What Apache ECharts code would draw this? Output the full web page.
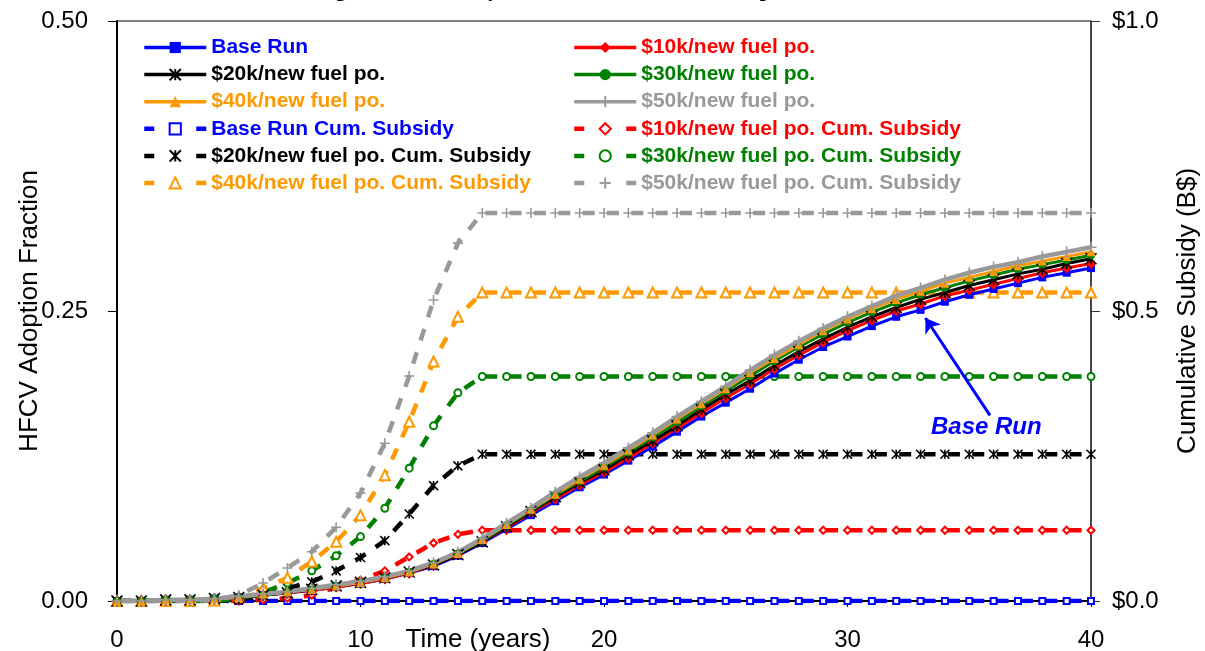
<!DOCTYPE html>
<html>
<head>
<meta charset="utf-8">
<script src="https://cdn.jsdelivr.net/npm/echarts@6/dist/echarts.min.js"></script>
<style>
  html, body { margin: 0; padding: 0; background: #fff; }
  #chart { width: 1205px; height: 651px; }
</style>
</head>
<body>
<div id="chart"></div>
<script>
// time axis (years)
const years = [0, 1, 2, 3, 4, 5, 6, 7, 8, 9, 10, 11, 12, 13, 14, 15, 16, 17, 18, 19, 20,
  21, 22, 23, 24, 25, 26, 27, 28, 29, 30, 31, 32, 33, 34, 35, 36, 37, 38, 39, 40];

// HFCV adoption fraction (left axis)
const adoptBase = [0, 0, 0.001, 0.001, 0.002, 0.003, 0.005, 0.007, 0.009, 0.012, 0.015, 0.019, 0.024, 0.030, 0.039, 0.050, 0.062, 0.074, 0.086, 0.098, 0.109,
  0.121, 0.133, 0.146, 0.159, 0.171, 0.183, 0.196, 0.208, 0.219, 0.228, 0.237, 0.245, 0.251, 0.258, 0.264, 0.269, 0.274, 0.279, 0.283, 0.287];
const adopt10k = [0, 0, 0.001, 0.001, 0.002, 0.003, 0.005, 0.007, 0.009, 0.012, 0.015, 0.019, 0.024, 0.031, 0.040, 0.051, 0.063, 0.076, 0.088, 0.100, 0.111,
  0.123, 0.136, 0.149, 0.162, 0.175, 0.187, 0.200, 0.212, 0.223, 0.233, 0.242, 0.250, 0.256, 0.263, 0.268, 0.273, 0.278, 0.283, 0.287, 0.291];
const adopt20k = [0, 0, 0.001, 0.001, 0.002, 0.003, 0.005, 0.007, 0.010, 0.013, 0.016, 0.020, 0.025, 0.031, 0.040, 0.051, 0.064, 0.077, 0.090, 0.102, 0.113,
  0.126, 0.138, 0.151, 0.165, 0.178, 0.190, 0.203, 0.215, 0.226, 0.236, 0.245, 0.253, 0.260, 0.266, 0.272, 0.277, 0.282, 0.286, 0.291, 0.295];
const adopt30k = [0, 0, 0.001, 0.001, 0.002, 0.003, 0.005, 0.008, 0.010, 0.013, 0.016, 0.020, 0.025, 0.032, 0.041, 0.052, 0.065, 0.078, 0.091, 0.103, 0.115,
  0.128, 0.141, 0.154, 0.168, 0.181, 0.194, 0.207, 0.219, 0.230, 0.240, 0.249, 0.257, 0.264, 0.270, 0.276, 0.281, 0.286, 0.290, 0.294, 0.298];
const adopt40k = [0, 0, 0.001, 0.001, 0.002, 0.003, 0.006, 0.008, 0.010, 0.013, 0.016, 0.020, 0.025, 0.032, 0.041, 0.053, 0.066, 0.079, 0.092, 0.105, 0.117,
  0.130, 0.143, 0.157, 0.170, 0.183, 0.197, 0.209, 0.221, 0.233, 0.243, 0.252, 0.260, 0.267, 0.274, 0.279, 0.284, 0.289, 0.293, 0.297, 0.301];
const adopt50k = [0, 0, 0.001, 0.001, 0.002, 0.004, 0.006, 0.008, 0.011, 0.014, 0.017, 0.021, 0.026, 0.033, 0.042, 0.054, 0.067, 0.080, 0.094, 0.107, 0.119,
  0.132, 0.145, 0.159, 0.172, 0.185, 0.199, 0.212, 0.224, 0.235, 0.245, 0.254, 0.263, 0.270, 0.277, 0.283, 0.288, 0.292, 0.297, 0.301, 0.305];

// cumulative subsidy, B$ (right axis)
const subBase = [0, 0, 0, 0, 0, 0, 0, 0, 0, 0, 0, 0, 0, 0, 0, 0, 0, 0, 0, 0, 0,
  0, 0, 0, 0, 0, 0, 0, 0, 0, 0, 0, 0, 0, 0, 0, 0, 0, 0, 0, 0];
const sub10k = [0, 0, 0, 0, 0, 0, 0.002, 0.005, 0.010, 0.024, 0.036, 0.052, 0.076, 0.100, 0.115, 0.122, 0.122, 0.122, 0.122, 0.122, 0.122,
  0.122, 0.122, 0.122, 0.122, 0.122, 0.122, 0.122, 0.122, 0.122, 0.122, 0.122, 0.122, 0.122, 0.122, 0.122, 0.122, 0.122, 0.122, 0.122, 0.122];
const sub20k = [0, 0, 0, 0, 0, 0.002, 0.010, 0.022, 0.033, 0.052, 0.075, 0.104, 0.150, 0.199, 0.233, 0.253, 0.253, 0.253, 0.253, 0.253, 0.253,
  0.253, 0.253, 0.253, 0.253, 0.253, 0.253, 0.253, 0.253, 0.253, 0.253, 0.253, 0.253, 0.253, 0.253, 0.253, 0.253, 0.253, 0.253, 0.253, 0.253];
const sub30k = [0, 0, 0, 0, 0, 0.004, 0.015, 0.031, 0.052, 0.078, 0.111, 0.160, 0.229, 0.302, 0.359, 0.387, 0.387, 0.387, 0.387, 0.387, 0.387,
  0.387, 0.387, 0.387, 0.387, 0.387, 0.387, 0.387, 0.387, 0.387, 0.387, 0.387, 0.387, 0.387, 0.387, 0.387, 0.387, 0.387, 0.387, 0.387, 0.387];
const sub40k = [0, 0, 0, 0, 0.001, 0.007, 0.022, 0.040, 0.068, 0.102, 0.148, 0.217, 0.309, 0.413, 0.490, 0.532, 0.532, 0.532, 0.532, 0.532, 0.532,
  0.532, 0.532, 0.532, 0.532, 0.532, 0.532, 0.532, 0.532, 0.532, 0.532, 0.532, 0.532, 0.532, 0.532, 0.532, 0.532, 0.532, 0.532, 0.532, 0.532];
const sub50k = [0, 0, 0, 0, 0.002, 0.010, 0.031, 0.057, 0.085, 0.127, 0.186, 0.272, 0.388, 0.519, 0.617, 0.669, 0.669, 0.669, 0.669, 0.669, 0.669,
  0.669, 0.669, 0.669, 0.669, 0.669, 0.669, 0.669, 0.669, 0.669, 0.669, 0.669, 0.669, 0.669, 0.669, 0.669, 0.669, 0.669, 0.669, 0.669, 0.669];

const xTicks = [0, 10, 20, 30, 40];
const leftTicks = [0, 0.25, 0.5];
const rightTicks = [0, 0.5, 1.0];

const FONT = "Liberation Sans, Arial, sans-serif";
const BLUE = "#0000ff", RED = "#ff0000", BLACK = "#000000", GREEN = "#008000", ORANGE = "#ff9900", GRAY = "#999999";
const ASTER = "path://M0,0L10,10M10,0L0,10M5,0L5,10";
const PLUS = "path://M5,0L5,10M0,5L10,5";
const DASH = [12, 12.35]; // excel restarts the dash at every point, one year ~ 24.35px
const DASH_SHIFT = 3; // dash begins a little right of each marker

function pairs(arr) {
  return years.map((t, i) => [t, arr[i]]);
}

function adoptSeries(name, arr, color, symbol, size, width) {
  let stroke = symbol === ASTER || symbol === PLUS;
  return {
    name: name,
    type: "line",
    yAxisIndex: 0,
    data: pairs(arr),
    symbol: symbol,
    symbolSize: size,
    showAllSymbol: true,
    lineStyle: { color: color, width: width || 3 },
    itemStyle: { color: color, borderColor: color, borderWidth: stroke ? 1.6 : 0 },
    z: 3,
  };
}

function subSeries(name, arr, color, symbol, size) {
  let stroke = symbol === ASTER || symbol === PLUS;
  return {
    name: name,
    type: "line",
    yAxisIndex: 1,
    data: pairs(arr),
    symbol: symbol,
    symbolSize: size,
    showAllSymbol: true,
    lineStyle: { color: color, width: 4.5, type: DASH, dashOffset: 0 },
    itemStyle: stroke ? { color: color, borderColor: color, borderWidth: 1.6 } : { color: color, borderWidth: 1.4 },
    z: 2,
  };
}

const legendLeft = [
  ["Base Run", BLUE], ["$20k/new fuel po.", BLACK], ["$40k/new fuel po.", ORANGE],
  ["Base Run Cum. Subsidy", BLUE], ["$20k/new fuel po. Cum. Subsidy", BLACK], ["$40k/new fuel po. Cum. Subsidy", ORANGE],
];
const legendRight = [
  ["$10k/new fuel po.", RED], ["$30k/new fuel po.", GREEN], ["$50k/new fuel po.", GRAY],
  ["$10k/new fuel po. Cum. Subsidy", RED], ["$30k/new fuel po. Cum. Subsidy", GREEN], ["$50k/new fuel po. Cum. Subsidy", GRAY],
];

function legendCol(list, left) {
  return {
    orient: "vertical",
    left: left,
    top: 37,
    padding: 0,
    itemWidth: 62,
    itemHeight: 14,
    itemGap: 6.1,
    textStyle: { fontFamily: FONT, fontSize: 21, lineHeight: 20, fontWeight: "bold" },
    data: list.map(([n, c]) => ({
      name: n,
      textStyle: { color: c },
      lineStyle: n.indexOf("Cum.") >= 0
        ? { width: 4.5, type: [10, 42], dashOffset: 0 }
        : { width: 3.5 },
    })),
  };
}

const baseRun = adoptSeries("Base Run", adoptBase, BLUE, "rect", 8);
baseRun.markLine = {
  silent: true,
  symbol: ["none", "arrow"],
  symbolSize: 14,
  label: { show: false },
  lineStyle: { color: BLUE, width: 3, type: "solid" },
  data: [[{ coord: [35.85, 0.160] }, { coord: [33.2, 0.244] }]],
};
baseRun.markPoint = {
  silent: true,
  symbolSize: 0,
  data: [{ coord: [35.7, 0.150], value: "Base Run" }],
  label: {
    show: true,
    formatter: "Base Run",
    color: BLUE,
    fontFamily: FONT,
    fontSize: 24,
    fontWeight: "bold",
    fontStyle: "italic",
  },
};

const chart = echarts.init(document.getElementById("chart"));

const subList = [
  subSeries("Base Run Cum. Subsidy", subBase, BLUE, "emptyRect", 6),
  subSeries("$10k/new fuel po. Cum. Subsidy", sub10k, RED, "emptyDiamond", 7),
  subSeries("$20k/new fuel po. Cum. Subsidy", sub20k, BLACK, ASTER, 9),
  subSeries("$30k/new fuel po. Cum. Subsidy", sub30k, GREEN, "emptyCircle", 7),
  subSeries("$40k/new fuel po. Cum. Subsidy", sub40k, ORANGE, "emptyTriangle", 10),
  subSeries("$50k/new fuel po. Cum. Subsidy", sub50k, GRAY, PLUS, 10),
];

const option = {
  animation: false,
  backgroundColor: "#fff",
  title: {
    text: "Funding Level Sensitivity Test and HFCV Market Adoption",
    left: 265,
    top: -25,
    textStyle: { fontFamily: "Liberation Serif, Times New Roman, serif", fontSize: 21, fontWeight: "bold", color: "#000" },
  },
  grid: { left: 117, right: 114, top: 21, bottom: 50, outerBoundsMode: "none", show: true, borderColor: "#000", borderWidth: 1 },
  legend: [legendCol(legendLeft, 142), legendCol(legendRight, 572)],
  xAxis: {
    type: "value",
    min: xTicks[0],
    max: xTicks[xTicks.length - 1],
    interval: 10,
    name: "Time (years)",
    nameLocation: "middle",
    nameGap: 26,
    nameMoveOverlap: false,
    nameTextStyle: { fontFamily: FONT, fontSize: 26, color: "#000", padding: [0, 252, 0, 0] },
    splitLine: { show: false },
    axisLine: { lineStyle: { color: "#000", width: 2 } },
    axisTick: { length: 6, lineStyle: { color: "#000" } },
    axisLabel: { fontFamily: FONT, fontSize: 24, color: "#000", margin: 27 },
  },
  yAxis: [
    {
      type: "value",
      min: leftTicks[0],
      max: leftTicks[leftTicks.length - 1],
      interval: 0.25,
      name: "HFCV Adoption Fraction",
      nameLocation: "middle",
      nameRotate: 90,
      nameGap: 74,
      nameMoveOverlap: false,
      nameTextStyle: { fontFamily: FONT, fontSize: 26, color: "#000" },
      splitLine: { show: false },
      axisLine: { show: true, lineStyle: { color: "#000", width: 2 } },
      axisTick: { show: true, length: 9, lineStyle: { color: "#000" } },
      axisLabel: { fontFamily: FONT, fontSize: 24, color: "#000", margin: 29, formatter: (v) => v.toFixed(2) },
    },
    {
      type: "value",
      position: "right",
      min: rightTicks[0],
      max: rightTicks[rightTicks.length - 1],
      interval: 0.5,
      name: "Cumulative Subsidy (B$)",
      nameLocation: "middle",
      nameRotate: 90,
      nameGap: 84,
      nameMoveOverlap: false,
      nameTextStyle: { fontFamily: FONT, fontSize: 26, color: "#000" },
      splitLine: { show: false },
      axisLine: { show: true, lineStyle: { color: "#333", width: 1.5 } },
      axisTick: { show: true, length: 9, lineStyle: { color: "#333" } },
      axisLabel: { fontFamily: FONT, fontSize: 24, color: "#000", margin: 21, formatter: (v) => "$" + v.toFixed(1) },
    },
  ],
  series: subList.concat([
    baseRun,
    adoptSeries("$10k/new fuel po.", adopt10k, RED, "diamond", 11),
    adoptSeries("$20k/new fuel po.", adopt20k, BLACK, ASTER, 11),
    adoptSeries("$30k/new fuel po.", adopt30k, GREEN, "circle", 8),
    adoptSeries("$40k/new fuel po.", adopt40k, ORANGE, "triangle", 9),
    adoptSeries("$50k/new fuel po.", adopt50k, GRAY, PLUS, 11, 4.5),
  ]),
};

chart.setOption(option);

// line up the dash phase so a dash follows each plateau point (t >= 15)
const period = DASH[0] + DASH[1];
subList.forEach((s) => {
  let len = 0;
  for (let i = 1; i <= 15; i++) {
    const a = chart.convertToPixel({ xAxisIndex: 0, yAxisIndex: 1 }, s.data[i - 1]);
    const b = chart.convertToPixel({ xAxisIndex: 0, yAxisIndex: 1 }, s.data[i]);
    len += Math.hypot(b[0] - a[0], b[1] - a[1]);
  }
  const target = len + DASH_SHIFT;
  s.lineStyle.dashOffset = (period - (target % period)) % period;
});
chart.setOption({ series: option.series });
</script>
</body>
</html>
